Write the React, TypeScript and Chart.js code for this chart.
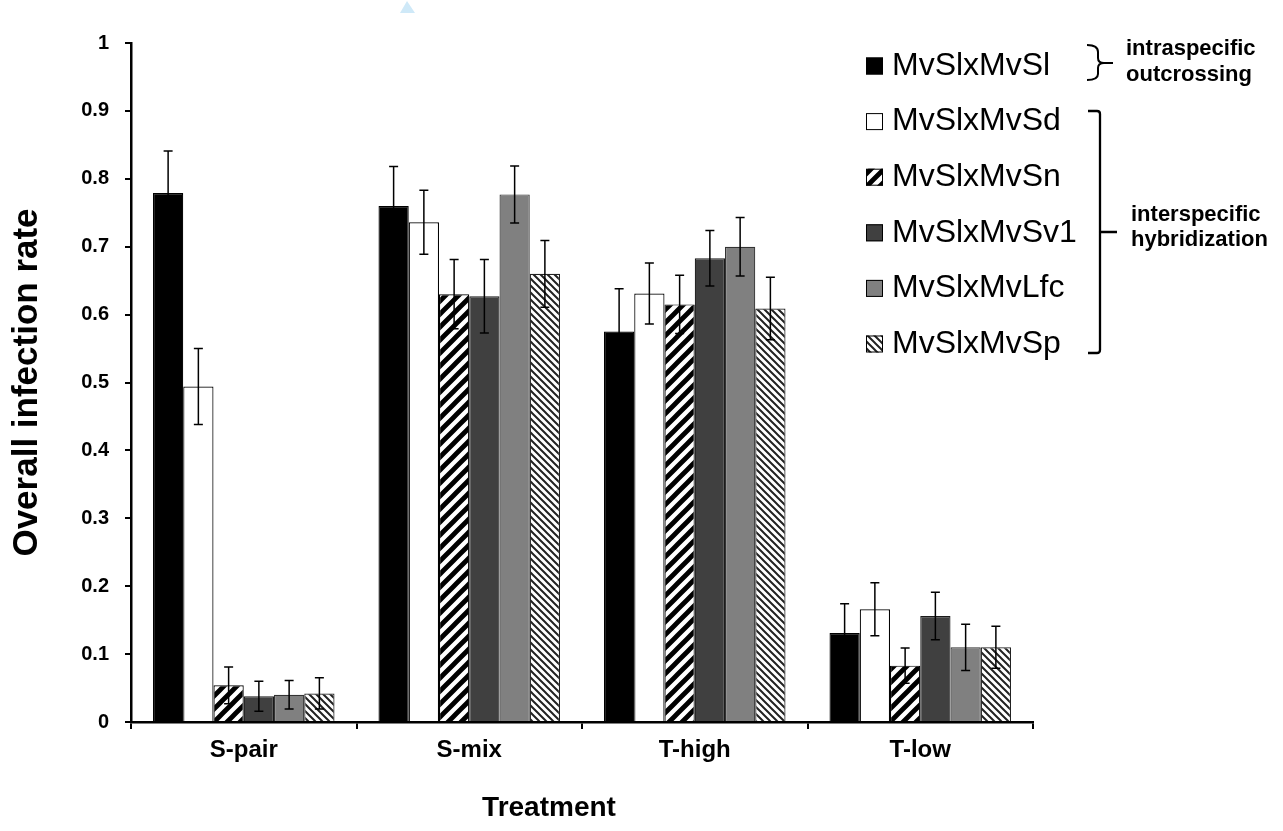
import React, { useEffect, useRef } from "react";
import { Chart, registerables } from "chart.js";

Chart.register(...registerables);

const categories = ["S-pair", "S-mix", "T-high", "T-low"];
const seriesLabels = ["MvSlxMvSl", "MvSlxMvSd", "MvSlxMvSn", "MvSlxMvSv1", "MvSlxMvLfc", "MvSlxMvSp"];

const meanSl = [0.779, 0.760, 0.575, 0.131];
const meanSd = [0.494, 0.736, 0.631, 0.166];
const meanSn = [0.054, 0.630, 0.615, 0.083];
const meanSv1 = [0.038, 0.627, 0.683, 0.156];
const meanLfc = [0.040, 0.777, 0.700, 0.110];
const meanSp = [0.042, 0.660, 0.609, 0.110];

const errSl = [0.062, 0.058, 0.063, 0.043];
const errSd = [0.056, 0.047, 0.045, 0.039];
const errSn = [0.027, 0.051, 0.043, 0.026];
const errSv1 = [0.022, 0.054, 0.041, 0.035];
const errLfc = [0.021, 0.042, 0.043, 0.034];
const errSp = [0.023, 0.049, 0.046, 0.031];

const yTickLabels = ["0", "0.1", "0.2", "0.3", "0.4", "0.5", "0.6", "0.7", "0.8", "0.9", "1"];
const intraNote = ["intraspecific", "outcrossing"];
const interNote = ["interspecific", "hybridization"];
const xTitle = "Treatment";
const yTitle = "Overall infection rate";

const FONT = 'Arial, "Liberation Sans", sans-serif';

function stripes(size: number, lw: number, color: string, dir: "up" | "down"): CanvasPattern | string {
  const c = document.createElement("canvas");
  c.width = size;
  c.height = size;
  const g = c.getContext("2d");
  if (!g) return "#fff";
  g.fillStyle = "#fff";
  g.fillRect(0, 0, size, size);
  g.strokeStyle = color;
  g.lineWidth = lw;
  g.beginPath();
  for (const k of [-1, 0, 1, 2]) {
    const cc = k * size;
    if (dir === "up") {
      g.moveTo(cc - 2 * size, 2 * size);
      g.lineTo(cc + size, -size);
    } else {
      g.moveTo(cc - size, -size);
      g.lineTo(cc + 2 * size, 2 * size);
    }
  }
  g.stroke();
  const p = g.createPattern(c, "repeat");
  return p || "#fff";
}

const errorBars = {
  id: "errorBars",
  afterDatasetsDraw(chart: any) {
    const { ctx, scales } = chart;
    const y = scales.y;
    ctx.save();
    ctx.strokeStyle = "#000";
    ctx.lineWidth = 1.5;
    chart.data.datasets.forEach((ds: any, i: number) => {
      const meta = chart.getDatasetMeta(i);
      meta.data.forEach((bar: any, j: number) => {
        const v = ds.data[j];
        const e = ds.errors[j];
        const yt = y.getPixelForValue(v + e);
        const yb = y.getPixelForValue(v - e);
        const x = bar.x;
        const cap = 4.5;
        ctx.beginPath();
        ctx.moveTo(x, yt);
        ctx.lineTo(x, yb);
        ctx.moveTo(x - cap, yt);
        ctx.lineTo(x + cap, yt);
        ctx.moveTo(x - cap, yb);
        ctx.lineTo(x + cap, yb);
        ctx.stroke();
      });
    });
    ctx.restore();
  },
};

const decor = {
  id: "decor",
  afterDraw(chart: any) {
    const { ctx } = chart;
    ctx.save();
    // legend
    const boxX = 866;
    const box = 17;
    const y0 = 66;
    const dy = 55.6;
    chart.data.datasets.forEach((ds: any, i: number) => {
      const cy = y0 + i * dy;
      ctx.fillStyle = ds.backgroundColor;
      ctx.fillRect(boxX, cy - box / 2, box, box);
      ctx.strokeStyle = "#000";
      ctx.lineWidth = 1;
      ctx.strokeRect(boxX + 0.5, cy - box / 2 + 0.5, box - 1, box - 1);
      ctx.fillStyle = "#000";
      ctx.font = `32px ${FONT}`;
      ctx.textAlign = "left";
      ctx.textBaseline = "middle";
      ctx.fillText(ds.label, 892, cy);
    });
    // brace for intraspecific
    ctx.strokeStyle = "#000";
    ctx.lineWidth = 2;
    ctx.beginPath();
    ctx.moveTo(1087, 45);
    ctx.quadraticCurveTo(1098, 45, 1098, 52);
    ctx.lineTo(1098, 58);
    ctx.quadraticCurveTo(1098, 63, 1104, 63);
    ctx.lineTo(1113, 63);
    ctx.moveTo(1104, 63);
    ctx.quadraticCurveTo(1098, 63, 1098, 68);
    ctx.lineTo(1098, 74);
    ctx.quadraticCurveTo(1098, 80, 1087, 80);
    ctx.stroke();
    // bracket for interspecific
    ctx.lineWidth = 2.3;
    ctx.beginPath();
    ctx.moveTo(1088, 111);
    ctx.lineTo(1097, 111);
    ctx.quadraticCurveTo(1100, 111, 1100, 114);
    ctx.lineTo(1100, 350);
    ctx.quadraticCurveTo(1100, 353, 1097, 353);
    ctx.lineTo(1088, 353);
    ctx.moveTo(1100, 232);
    ctx.lineTo(1117, 232);
    ctx.stroke();
    ctx.fillStyle = "#000";
    ctx.font = `bold 22px ${FONT}`;
    ctx.textAlign = "left";
    ctx.textBaseline = "middle";
    ctx.fillText(intraNote[0], 1126, 49);
    ctx.fillText(intraNote[1], 1126, 75);
    ctx.fillText(interNote[0], 1131, 215);
    ctx.fillText(interNote[1], 1131, 240);
    // x axis title
    ctx.font = `bold 28px ${FONT}`;
    ctx.textAlign = "center";
    ctx.fillText(xTitle, 549, 808);
    // small blue mark at top
    ctx.fillStyle = "#cfe9f8";
    ctx.beginPath();
    ctx.moveTo(400, 13);
    ctx.lineTo(407, 1);
    ctx.lineTo(415, 13);
    ctx.closePath();
    ctx.fill();
    ctx.restore();
  },
};

export default function App() {
  const ref = useRef<HTMLCanvasElement | null>(null);
  useEffect(() => {
    if (!ref.current) return;
    const snPat = stripes(13, 4.8, "#000", "up");
    const spPat = stripes(7, 2, "#222", "down");
    const fills: any[] = ["#000000", "#ffffff", snPat, "#404040", "#808080", spPat];
    const borders = ["#000", "#000", "#000", "#1a1a1a", "#333", "#222"];
    const means = [meanSl, meanSd, meanSn, meanSv1, meanLfc, meanSp];
    const errs = [errSl, errSd, errSn, errSv1, errLfc, errSp];
    const datasets = seriesLabels.map((label, i) => ({
      label,
      data: means[i],
      errors: errs[i],
      backgroundColor: fills[i],
      borderColor: borders[i],
      borderWidth: 1.2,
      categoryPercentage: 0.805,
      barPercentage: 1,
    }));
    const chart = new Chart(ref.current, {
      type: "bar",
      data: { labels: categories, datasets: datasets as any },
      options: {
        responsive: false,
        animation: false,
        layout: { padding: { top: 43, right: 250, left: 0, bottom: 0 } },
        plugins: { legend: { display: false }, tooltip: { enabled: false } },
        scales: {
          x: {
            type: "category",
            offset: true,
            grid: { offset: true, drawOnChartArea: false, drawTicks: true, tickLength: 7, color: "#000", lineWidth: 2 },
            border: { display: true, color: "#000", width: 2.5 },
            ticks: { color: "#000", font: { family: FONT, weight: "bold", size: 24 }, padding: 7, maxRotation: 0 },
            afterFit: (s: any) => {
              s.height = 109;
            },
          },
          y: {
            min: 0,
            max: 1,
            ticks: {
              stepSize: 0.1,
              color: "#000",
              font: { family: FONT, weight: "bold", size: 20 },
              padding: 16,
              callback: (v: any) => yTickLabels[Math.round(Number(v) * 10)],
            },
            grid: { drawOnChartArea: false, drawTicks: true, tickLength: 6, color: "#000", lineWidth: 2 },
            border: { display: true, color: "#000", width: 2.5 },
            title: {
              display: true,
              text: yTitle,
              color: "#000",
              font: { family: FONT, weight: "bold", size: 35 },
              padding: { top: 6, bottom: 0 },
            },
            afterFit: (s: any) => {
              s.width = 131;
            },
          },
        },
      } as any,
      plugins: [errorBars, decor],
    });
    return () => chart.destroy();
  }, []);
  return (
    <div style={{ position: "absolute", left: 0, top: 0, width: 1283, height: 831, background: "#fff" }}>
      <canvas ref={ref} width={1283} height={831} style={{ display: "block" }} />
    </div>
  );
}
